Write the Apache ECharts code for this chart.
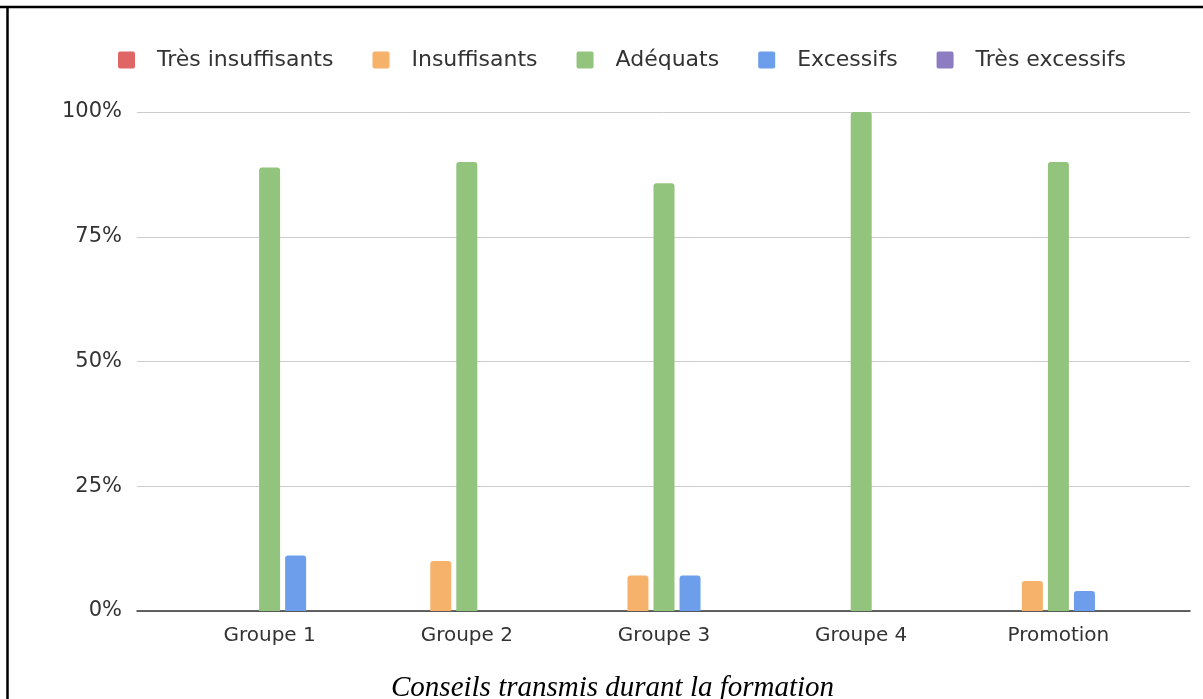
<!DOCTYPE html>
<html>
<head>
<meta charset="utf-8">
<script src="https://cdn.jsdelivr.net/npm/echarts@6/dist/echarts.min.js"></script>
<style>
  html, body { margin: 0; padding: 0; background: #fff; }
  #chart { width: 1203px; height: 699px; }
</style>
</head>
<body>
<div id="chart"></div>
<script>
// categories and values (fractions of 1)
var groupes = ['Groupe 1', 'Groupe 2', 'Groupe 3', 'Groupe 4', 'Promotion']
var tresInsuffisants = [0, 0, 0, 0, 0]
var insuffisants = [0, 0.10, 0.071, 0, 0.06]
var adequats = [0.889, 0.90, 0.857, 1.0, 0.90]
var excessifs = [0.111, 0, 0.071, 0, 0.04]
var tresExcessifs = [0, 0, 0, 0, 0]

var noms = ['Très insuffisants', 'Insuffisants', 'Adéquats', 'Excessifs', 'Très excessifs']
var couleurs = ['#e06666', '#f6b26b', '#93c47d', '#6d9eeb', '#8e7cc3']
var valeurs = [tresInsuffisants, insuffisants, adequats, excessifs, tresExcessifs]

var chart = echarts.init(document.getElementById('chart'))

var series = noms.map(function (nom, i) {
  return {
    name: nom,
    type: 'bar',
    xAxisIndex: 1,
    yAxisIndex: 1,
    data: valeurs[i],
    barWidth: 21,
    barGap: '24%',
    itemStyle: { color: couleurs[i], borderRadius: [3, 3, 0, 0] }
  }
})

chart.setOption({
  animation: false,
  title: {
    text: 'Conseils transmis durant la formation',
    left: 386,
    top: 669,
    textStyle: {
      fontFamily: 'Liberation Serif',
      fontStyle: 'italic',
      fontWeight: 'normal',
      fontSize: 29,
      color: '#000'
    }
  },
  legend: {
    top: 44,
    left: 113,
    itemWidth: 17,
    itemHeight: 17,
    itemGap: 39,
    icon: 'path://M2,0 L15,0 Q17,0 17,2 L17,15 Q17,17 15,17 L2,17 Q0,17 0,15 L0,2 Q0,0 2,0 Z',
    textStyle: {
      fontFamily: 'DejaVu Sans',
      fontSize: 22,
      color: '#333',
      padding: [0, 0, 0, 17]
    },
    data: noms
  },
  grid: [
    { left: 137, right: 13, top: 112, bottom: 88 },
    { left: 171, right: 46, top: 112, bottom: 88 }
  ],
  xAxis: [
    {
      gridIndex: 0,
      type: 'value',
      min: 0,
      max: 1,
      axisLine: { show: true, lineStyle: { color: '#333', width: 1.5 } },
      axisTick: { show: false },
      axisLabel: { show: false },
      splitLine: { show: false }
    },
    {
      gridIndex: 1,
      type: 'category',
      data: groupes,
      axisLine: { show: false },
      axisTick: { show: false },
      axisLabel: {
        margin: 15,
        fontFamily: 'DejaVu Sans',
        fontSize: 20,
        color: '#333'
      }
    }
  ],
  yAxis: [
    {
      gridIndex: 0,
      type: 'value',
      min: 0,
      max: 1,
      interval: 0.25,
      axisLine: { show: false },
      axisTick: { show: false },
      axisLabel: {
        margin: 15,
        fontFamily: 'DejaVu Sans',
        fontSize: 21,
        color: '#333',
        formatter: function (v) { return Math.round(v * 100) + '%' }
      },
      splitLine: { lineStyle: { color: '#cccccc', width: 1 } }
    },
    {
      gridIndex: 1,
      type: 'value',
      min: 0,
      max: 1,
      show: false
    }
  ],
  graphic: [
    { type: 'line', shape: { x1: 0, y1: 7, x2: 1203, y2: 7 }, style: { stroke: '#000', lineWidth: 2.5 } },
    { type: 'line', shape: { x1: 7.5, y1: 6, x2: 7.5, y2: 699 }, style: { stroke: '#000', lineWidth: 2.5 } }
  ],
  series: series
})
</script>
</body>
</html>
